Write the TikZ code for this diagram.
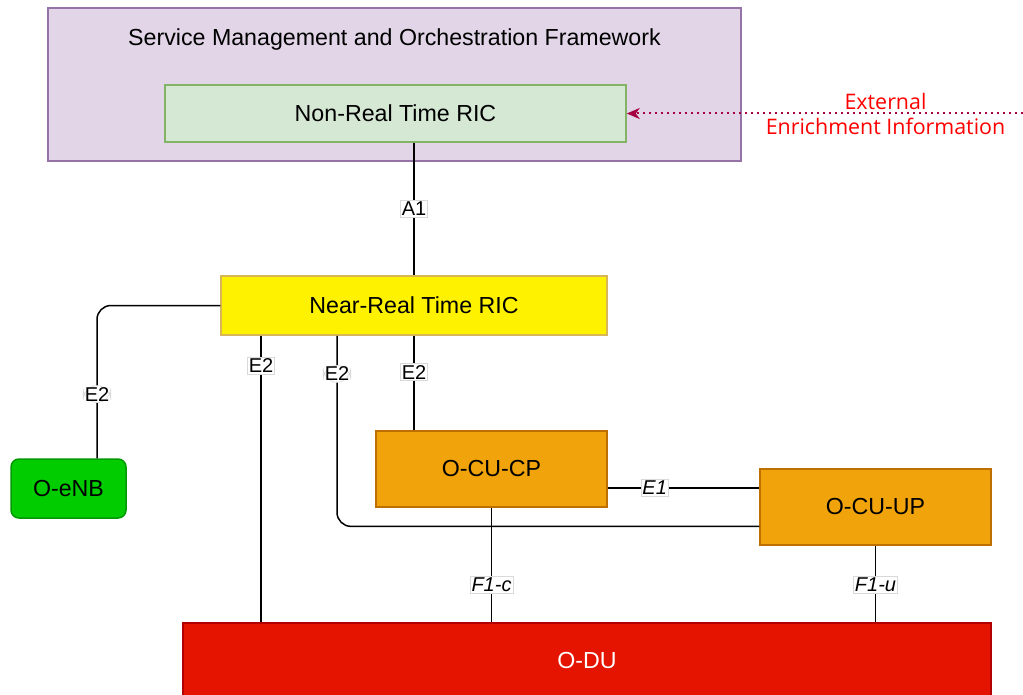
\documentclass[tikz,border=0pt]{standalone}
\usepackage{fontspec}
\setmainfont{Liberation Sans}
\newfontfamily\extfont{Open Sans}
\usetikzlibrary{arrows.meta, calc}

\definecolor{smofill}{HTML}{E1D5E7}
\definecolor{smoline}{HTML}{9673A6}
\definecolor{ricfill}{HTML}{D5E8D4}
\definecolor{ricline}{HTML}{82B366}
\definecolor{nrtline}{HTML}{D6B656}
\definecolor{enbfill}{HTML}{00CC00}
\definecolor{enbline}{HTML}{009900}
\definecolor{cufill}{HTML}{F0A30A}
\definecolor{culine}{HTML}{BD7000}
\definecolor{dufill}{HTML}{E51400}
\definecolor{duline}{HTML}{B20000}
\definecolor{extline}{HTML}{A50040}

\tikzset{
  box/.style={rectangle, draw, line width=1.5pt, font=\fontsize{23.2}{28}\selectfont},
  lbl/.style={fill=white, draw=black!15, line width=0.6pt, inner sep=1.5pt, font=\fontsize{20}{24}\selectfont},
  itlbl/.style={lbl, font=\fontsize{20}{24}\selectfont\itshape},
  link/.style={line width=1.5pt},
}

\begin{document}
\begin{tikzpicture}[x=1pt, y=-1pt]
    \useasboundingbox (0,0) rectangle (1023,695);

    % ノードの定義
    \node[box, draw=smoline, fill=smofill, minimum width=693pt, minimum height=153pt] (smo) at (394.5, 84.5) {};
    \node[font=\fontsize{23.2}{28}\selectfont] (smotitle) at (394.5, 40) {Service Management and Orchestration Framework};
    \node[box, draw=ricline, fill=ricfill, minimum width=461pt, minimum height=57pt] (nonrt) at (395.5, 113.5) {Non-Real Time RIC};
    \node[box, draw=nrtline, fill=yellow, minimum width=386pt, minimum height=59pt] (nrt) at (414, 305.5) {Near-Real Time RIC};
    \node[box, draw=enbline, fill=enbfill, rounded corners=8pt, minimum width=115pt, minimum height=59pt] (enb) at (68.5, 488.5) {O-eNB};
    \node[box, draw=culine, fill=cufill, minimum width=231pt, minimum height=76pt] (cucp) at (491.5, 469) {O-CU-CP};
    \node[box, draw=culine, fill=cufill, minimum width=231pt, minimum height=76pt] (cuup) at (875.5, 507) {O-CU-UP};
    \node[box, draw=duline, fill=dufill, text=white, minimum width=808pt, minimum height=76pt] (odu) at (587, 661) {O-DU};

    % 外部情報
    \node[text=red, align=center, font=\extfont\fontsize{21.4}{25}\selectfont] (exttext) at (885.5, 114) {External\\Enrichment Information};
    \coordinate (extsrc) at (1023, 113.5);

    % 縦線の位置
    \coordinate (xa) at (414, 0);
    \coordinate (xb) at (261, 0);
    \coordinate (xc) at (337, 0);
    \coordinate (xd) at (97, 0);
    \coordinate (ye) at (0, 488);

    % エッジの定義
    \draw[link] (nonrt.south -| xa) -- node[lbl] {A1} (nrt.north -| xa);
    \draw[link, rounded corners=14pt] (nrt.west) -| node[lbl, pos=0.79] {E2} (enb.north -| xd);
    \draw[link] (nrt.south -| xb) -- node[lbl, pos=0.104] {E2} (odu.north -| xb);
    \draw[link, rounded corners=14pt] (nrt.south -| xc) |- node[lbl, pos=0.1] {E2} ($(cuup.south west)!0.25!(cuup.north west)$);
    \draw[link] (nrt.south -| xa) -- node[lbl, pos=0.385] {E2} (cucp.north -| xa);
    \draw[link] (cucp.east |- ye) -- node[itlbl, pos=0.31] {E1} (cuup.west |- ye);
    \draw[link] (cucp.south) -- node[itlbl, pos=0.67] {F1-c} (odu.north -| cucp.south);
    \draw[link] (cuup.south) -- node[itlbl, pos=0.51] {F1-u} (odu.north -| cuup.south);
    \draw[line width=2pt, extline, dash pattern=on 2pt off 4pt, -{Stealth[length=13pt, width=11pt, inset=4pt]}] (extsrc) -- (nonrt.east);
\end{tikzpicture}
\end{document}
